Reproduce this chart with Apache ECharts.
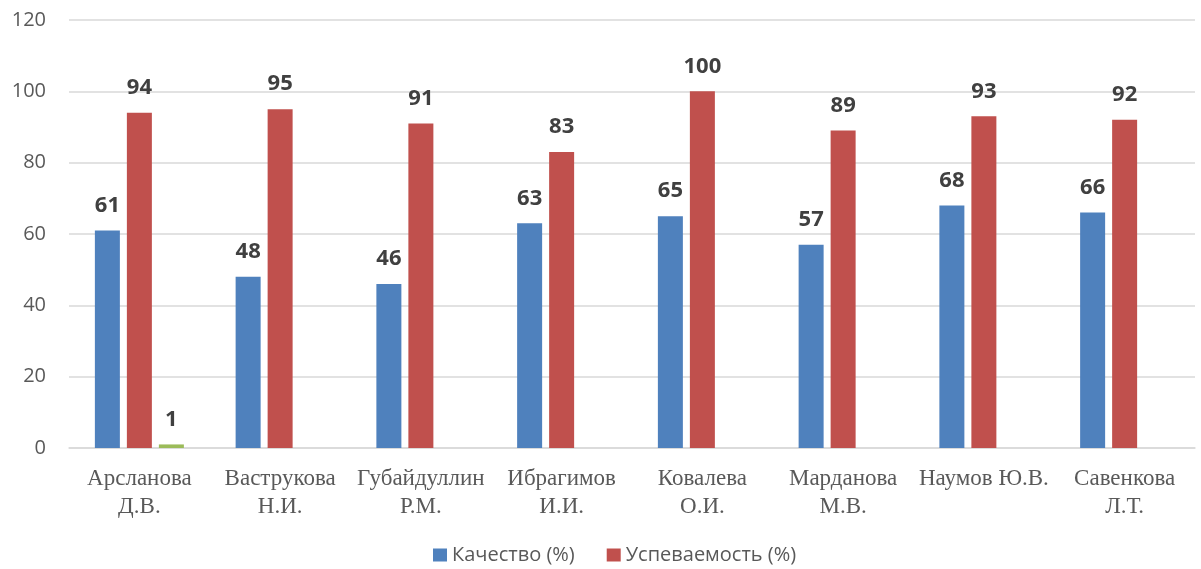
<!DOCTYPE html>
<html>
<head>
<meta charset="utf-8">
<script src="https://cdn.jsdelivr.net/npm/echarts@6/dist/echarts.min.js"></script>
<style>
  html, body { margin: 0; padding: 0; background: #fff; }
  #chart { width: 1201px; height: 569px; }
</style>
</head>
<body>
<div id="chart"></div>
<script>
  // данные
  var teachers = ['Арсланова\nД.В.', 'Ваструкова\nН.И.', 'Губайдуллин\nР.М.', 'Ибрагимов\nИ.И.',
    'Ковалева\nО.И.', 'Марданова\nМ.В.', 'Наумов Ю.В.', 'Савенкова\nЛ.Т.'];
  var quality = [61, 48, 46, 63, 65, 57, 68, 66];
  var progress = [94, 95, 91, 83, 100, 89, 93, 92];
  var third = [1, null, null, null, null, null, null, null];
  var yTicks = [0, 20, 40, 60, 80, 100, 120];

  var labelStyle = {
    show: true, position: 'top', distance: 14,
    color: '#404040', fontSize: 22, fontWeight: 'bold',
    fontFamily: '"Open Sans", sans-serif'
  };

  var chart = echarts.init(document.getElementById('chart'));
  chart.setOption({
    animation: false,
    grid: {left: 69, right: 6, top: 20, bottom: 121},
    legend: {
      data: ['Качество (%)', 'Успеваемость (%)'],
      top: 540, left: 428, itemWidth: 14, itemHeight: 13, itemGap: 32,
      icon: 'rect',
      textStyle: {color: '#595959', fontSize: 20, fontFamily: '"Open Sans", sans-serif'}
    },
    xAxis: {
      type: 'category', data: teachers,
      axisTick: {show: false},
      axisLine: {lineStyle: {color: '#d9d9d9', width: 1.5}},
      axisLabel: {
        color: '#595959', fontSize: 23, lineHeight: 28, margin: 17, interval: 0,
        fontFamily: '"Liberation Serif", "DejaVu Serif", serif'
      }
    },
    yAxis: {
      type: 'value', min: yTicks[0], max: yTicks[yTicks.length - 1], interval: 20,
      axisLine: {show: false}, axisTick: {show: false},
      splitLine: {lineStyle: {color: '#d9d9d9', width: 1.5}},
      axisLabel: {color: '#595959', fontSize: 20, margin: 23, fontFamily: '"Open Sans", sans-serif'}
    },
    series: [
      {name: 'Качество (%)', type: 'bar', data: quality, barWidth: 25, barGap: '28%',
        itemStyle: {color: '#4F81BD'}, label: labelStyle},
      {name: 'Успеваемость (%)', type: 'bar', data: progress, barWidth: 25, barGap: '28%',
        itemStyle: {color: '#C0504D'}, label: labelStyle},
      {name: 'Ряд 3', type: 'bar', data: third, barWidth: 25, barGap: '28%',
        itemStyle: {color: '#9BBB59'}, label: labelStyle}
    ]
  });
</script>
</body>
</html>
